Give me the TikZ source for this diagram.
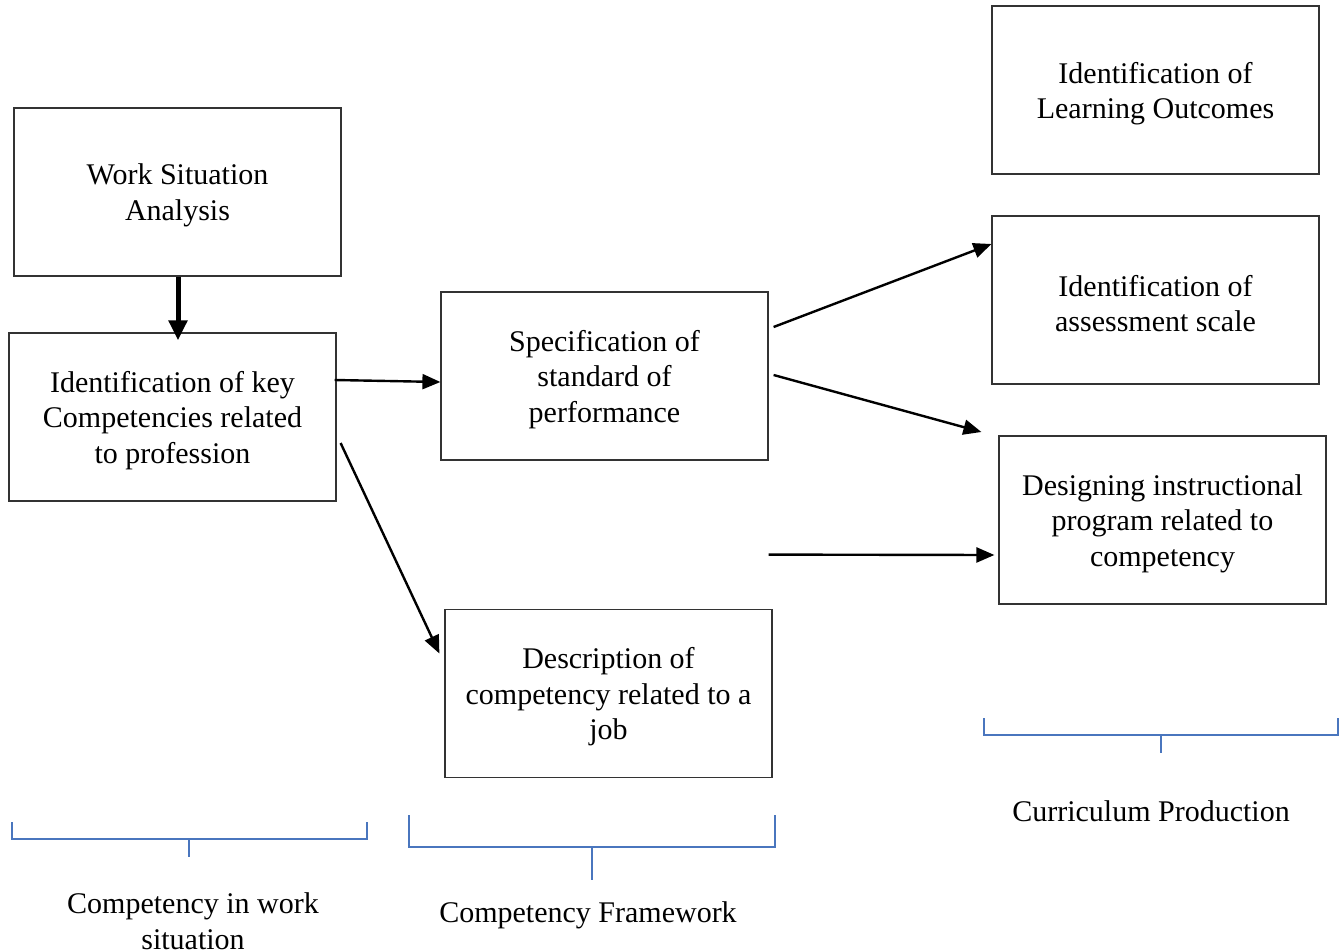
\documentclass[tikz,border=0pt]{standalone}
\usepackage{fontspec}
\setmainfont{Liberation Serif}
\usetikzlibrary{arrows.meta,calc}
\definecolor{brk}{HTML}{4A76BE}
\begin{document}
\begin{tikzpicture}[x=1pt,y=-1pt,
  box/.style={draw=black!80,line width=1.2pt,minimum width=327pt,minimum height=168pt,inner sep=0pt},
  lab/.style={align=center,inner sep=0pt,font=\fontsize{30pt}{35.5pt}\selectfont},
  arr/.style={line width=2.4pt,-{Triangle[length=18pt,width=15pt]}},
  brack/.style={draw=brk,line width=2pt}]
\useasboundingbox (0,0) rectangle (1341,952);
\node[box] (work) at (177.5,192) {};
\node[box] (key) at (172.5,417) {};
\node[box] (spec) at (604.5,376) {};
\node[box] (desc) at (608.5,693.5) {};
\node[box] (learn) at (1155.5,90) {};
\node[box] (assess) at (1155.5,300) {};
\node[box] (design) at (1162.5,520) {};
\node[lab] (workt) at ([shift={(0,3.5)}]work.center) {Work Situation\\Analysis};
\node[lab] (keyt) at ([shift={(0,3.5)}]key.center) {Identification of key\\Competencies related\\to profession};
\node[lab] (spect) at ([shift={(0,3.5)}]spec.center) {Specification of\\standard of\\performance};
\node[lab] (desct) at ([shift={(0,3.5)}]desc.center) {Description of\\competency related to a\\job};
\node[lab] (learnt) at ([shift={(0,3.5)}]learn.center) {Identification of\\Learning Outcomes};
\node[lab] (assesst) at ([shift={(0,3.5)}]assess.center) {Identification of\\assessment scale};
\node[lab] (designt) at ([shift={(0,3.5)}]design.center) {Designing instructional\\program related to\\competency};

\draw[line width=5pt,-{Triangle[length=20pt,width=18pt]}] ([shift={(0.5,0)}]work.south) -- ([shift={(5.5,8)}]key.north);
\draw[arr] ([shift={(-2,-37)}]key.east) -- ([shift={(0,6)}]spec.west);
\draw[arr] ([shift={(4,26)}]key.east) -- ([shift={(-5,-40)}]desc.west);
\draw[arr] ([shift={(5,-49)}]spec.east) -- ([shift={(0,-56)}]assess.west);
\draw[arr] ([shift={(5,-1)}]spec.east) -- ([shift={(-17,-88)}]design.west);
\draw[arr] ([shift={(0,94)}]spec.south east) -- ([shift={(-4,35)}]design.west);

\draw[brack] (12,822) -- (12,839) -- (367,839) -- (367,822);
\draw[brack] (189,839) -- (189,857);
\draw[brack] (409,815) -- (409,847) -- (775,847) -- (775,815);
\draw[brack] (592,847) -- (592,880);
\draw[brack] (984,718) -- (984,735) -- (1338,735) -- (1338,718);
\draw[brack] (1161,735) -- (1161,753);

\node[lab] (l1) at (193,921) {Competency in work\\situation};
\node[lab] (l2) at (588,915) {Competency Framework};
\node[lab] (l3) at (1151,811) {Curriculum Production};
\end{tikzpicture}
\end{document}
